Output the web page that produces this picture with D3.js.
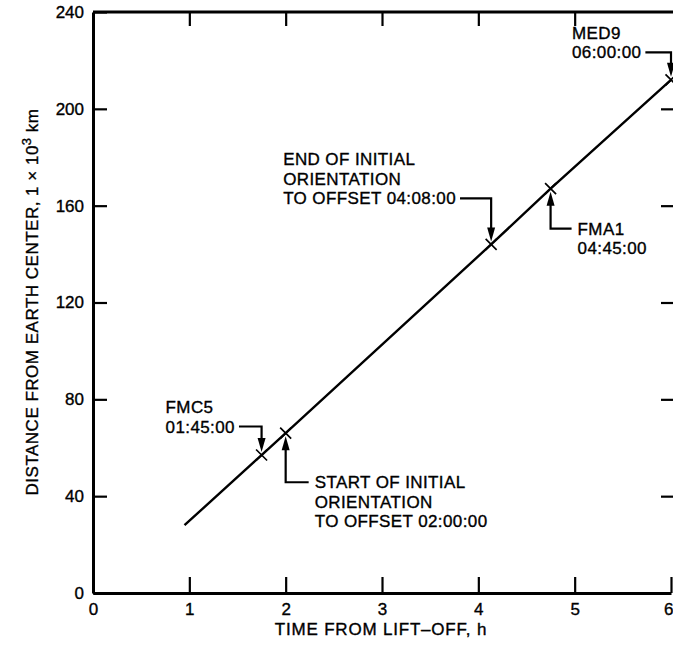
<!DOCTYPE html>
<html>
<head>
<meta charset="utf-8">
<script src="https://cdn.jsdelivr.net/npm/d3@7"></script>
<style>
  body { margin: 0; background: #fff; }
  svg text { font-family: "Liberation Sans", Arial, sans-serif; fill: #000; stroke: #000; stroke-width: 0.35px; }
  .axis path, .axis line { stroke: #000; }
</style>
</head>
<body>
<svg id="chart" width="673" height="651"></svg>
<script>
// tick values on the two axes
const timeTicks = [0, 1, 2, 3, 4, 5, 6];
const distTicks = [0, 40, 80, 120, 160, 200, 240];

// trajectory (h since lift-off, 1000 km from earth center)
const trajTime = [0.95, 1.75, 2.0, 4.133, 4.75, 6.0];
const trajDist = [28, 57, 66, 144, 167, 212];

// events marked with an X on the trajectory
const eventTime = [1.75, 2.0, 4.133, 4.75, 6.0];
const eventDist = [57, 66, 144, 167, 212];
const eventText = [
  ["FMC5", "01:45:00"],
  ["START OF INITIAL", "ORIENTATION", "TO OFFSET 02:00:00"],
  ["END OF INITIAL", "ORIENTATION", "TO OFFSET 04:08:00"],
  ["FMA1", "04:45:00"],
  ["MED9", "06:00:00"]
];

// where each label sits relative to its marker (pixels)
const callouts = [
  {side: "above", dx: -96, dy: -42, lead: 1},
  {side: "below", dx: 29, dy: 55, lead: 0},
  {side: "above", dx: -208, dy: -79, lead: 2},
  {side: "below", dx: 27, dy: 46, lead: 0},
  {side: "above", dx: -99, dy: -41, lead: 1}
];

const svg = d3.select("#chart");
const plot = {left: 93, right: 671, top: 12, bottom: 593};

let x = d3.scaleLinear().domain([0, 6]).range([plot.left, plot.right]);
let y = d3.scaleLinear().domain([0, 240]).range([plot.bottom, plot.top]);

// axes, ticks pointing into the plot
let gBottom = svg.append("g").attr("class", "axis")
  .attr("transform", `translate(0,${plot.bottom})`)
  .call(d3.axisBottom(x).tickValues(timeTicks).tickFormat(d3.format("d"))
    .tickSizeInner(-16).tickSizeOuter(0).tickPadding(10));
let gLeft = svg.append("g").attr("class", "axis")
  .attr("transform", `translate(${plot.left},0)`)
  .call(d3.axisLeft(y).tickValues(distTicks).tickFormat(d3.format("d"))
    .tickSizeInner(-14).tickSizeOuter(0).tickPadding(9));
let gTop = svg.append("g").attr("class", "axis")
  .attr("transform", `translate(0,${plot.top})`)
  .call(d3.axisTop(x).tickValues(timeTicks.slice(1, 6)).tickSizeInner(-14).tickSizeOuter(0).tickFormat(""));
let gRight = svg.append("g").attr("class", "axis")
  .attr("transform", `translate(${plot.right + 3},0)`)
  .call(d3.axisRight(y).tickValues(distTicks.slice(1, 6)).tickSizeInner(-13).tickSizeOuter(0).tickFormat(""));

svg.selectAll(".axis path").attr("stroke-width", 3);
svg.selectAll(".axis line").attr("stroke-width", 2.2);
svg.selectAll(".axis text")
  .attr("fill", "#000")
  .style("font-size", "17px")
  .style("font-family", "'Liberation Sans', Arial, sans-serif");
// last time label sits against the right edge of the picture
gBottom.selectAll(".tick text")
  .filter(d => d === 6)
  .attr("text-anchor", "end")
  .attr("x", 2);
// top axis domain must reach the right edge of the picture
gTop.select("path").attr("d", `M${plot.left},0H${plot.right + 3}`);

// axis titles
svg.append("text")
  .attr("x", 381).attr("y", 635)
  .attr("text-anchor", "middle")
  .style("font-size", "17px").style("letter-spacing", "0.8px")
  .text("TIME FROM LIFT\u2013OFF, h");

let yTitle = svg.append("text")
  .attr("transform", "translate(38,302) rotate(-90)")
  .attr("text-anchor", "middle")
  .style("font-size", "17px").style("letter-spacing", "0.5px");
yTitle.append("tspan").text("DISTANCE FROM EARTH CENTER, 1 \u00d7 10");
yTitle.append("tspan").attr("dy", -7).style("font-size", "13px").text("3");
yTitle.append("tspan").attr("dy", 7).text(" km");

// trajectory line
let pts = trajTime.map((t, i) => [t, trajDist[i]]);
let line = d3.line().x(d => x(d[0])).y(d => y(d[1]));
svg.append("path")
  .datum(pts)
  .attr("d", line)
  .attr("fill", "none")
  .attr("stroke", "#000")
  .attr("stroke-width", 2.4);

// X markers
let events = eventTime.map((t, i) => ({t: t, d: eventDist[i], text: eventText[i], c: callouts[i]}));
let s = 5.5;
svg.append("g").selectAll("path")
  .data(events)
  .enter()
  .append("path")
  .attr("d", e => {
    let mx = x(e.t), my = y(e.d);
    return `M${mx - s},${my - s}L${mx + s},${my + s}M${mx - s},${my + s}L${mx + s},${my - s}`;
  })
  .attr("stroke", "#000")
  .attr("stroke-width", 1.7);

// labels with leader lines and arrowheads
let lineGap = 19.5;
events.forEach(e => {
  let mx = x(e.t), my = y(e.d);
  let tx = mx + e.c.dx, ty = my + e.c.dy;
  let g = svg.append("g");
  let texts = g.selectAll("text")
    .data(e.text)
    .enter()
    .append("text")
    .attr("x", tx)
    .attr("y", (d, i) => ty + i * lineGap)
    .style("font-size", "17px")
    .style("letter-spacing", "0.4px")
    .text(d => d);

  let ly = ty + e.c.lead * lineGap - 6;
  let sx, tipY, dir;
  if (e.c.side === "above") {
    let node = texts.nodes()[e.c.lead];
    sx = tx + node.getComputedTextLength() + 4;
    tipY = my - 3;
    dir = -1;
  } else {
    sx = tx - 6;
    tipY = my + 3;
    dir = 1;
  }
  g.append("path")
    .attr("d", `M${sx},${ly}H${mx}V${tipY + dir * 6}`)
    .attr("fill", "none")
    .attr("stroke", "#000")
    .attr("stroke-width", 2.2);
  g.append("path")
    .attr("d", `M${mx},${tipY}L${mx - 4},${tipY + dir * 14}L${mx + 4},${tipY + dir * 14}Z`)
    .attr("fill", "#000");
});
</script>
</body>
</html>
